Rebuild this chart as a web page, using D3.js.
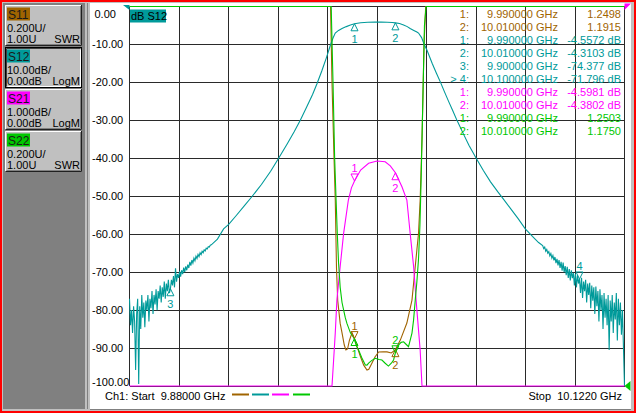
<!DOCTYPE html>
<html>
<head>
<meta charset="utf-8">
<script src="https://cdn.jsdelivr.net/npm/d3@7"></script>
<style>
body { margin: 0; background: #c0c0c0; }
svg { display: block; font-family: "Liberation Sans", Arial, sans-serif; font-size: 11px; }
</style>
</head>
<body>
<svg width="636" height="413"></svg>
<script>
// sweep and axis
var startGHz = 9.88, stopGHz = 10.122;
var yTickValues = [0, -10, -20, -30, -40, -50, -60, -70, -80, -90, -100];

// channel buttons on the left
var chanNames = ['S11', 'S12', 'S21', 'S22'];
var chanScale = ['0.200U/', '10.00dB/', '1.000dB/', '0.200U/'];
var chanRef = ['1.00U', '0.00dB', '0.00dB', '1.00U'];
var chanFormat = ['SWR', 'LogM', 'LogM', 'SWR'];
var chanColors = ['#a06400', '#009a9a', '#ff00ff', '#00c800'];

// S12 (dB) noisy ends are read at one point per 0.0005 GHz
var s12NoiseStep = 0.0005;
// low end, from 9.880
var s12LowDb = [-77, -84, -80, -86, -79, -83, -95.8, -81, -77, -99.5,
  -79, -85, -76, -82, -78, -84.5, -77.5, -80, -76, -83,
  -77, -79.5, -75, -81, -76, -78.5, -74.5, -80, -75, -77,
  -73.5, -78, -74, -76.5, -72.5, -77, -73, -75, -72, -75.5,
  -74.4, -72, -73.5, -71, -74, -69, -72.5, -70.5, -71.5, -69.8,
  -71.2, -69.5, -70.5, -68.8, -70, -68.5, -69.5, -68, -68.9, -67.3,
  -68.3, -66.8, -67.6, -66.3, -67, -65.8, -66.4, -65.3, -65.9, -64.9,
  -65.4, -64.5, -64.9, -64.1, -64.4, -63.7, -63.9, -63.3, -63.4, -62.9, -62.8];
// smooth middle
var s12MidFreq = [9.923, 9.926, 9.9285, 9.932, 9.936, 9.940, 9.9445, 9.949, 9.9529, 9.957, 9.9605,
  9.9635, 9.9665, 9.9695, 9.9717, 9.9740, 9.9762, 9.9782, 9.9795, 9.9806, 9.9822, 9.9839, 9.9860,
  9.9880, 9.9900, 9.9930, 9.9965, 10.0000, 10.0030, 10.0060, 10.0085, 10.0100, 10.0120, 10.0140,
  10.0158, 10.0172, 10.0190, 10.0205, 10.0213, 10.0228, 10.0240, 10.0255, 10.0280, 10.0300,
  10.0319, 10.0340, 10.0360, 10.0380, 10.0401, 10.0430, 10.0460, 10.0495, 10.0530, 10.0565,
  10.0600, 10.0630, 10.0665, 10.0700, 10.0735, 10.0770, 10.0800];
var s12MidDb = [-61.3, -58.6, -57.4, -55.2, -52.6, -50.0, -46.9, -43.4, -40.0, -36.3, -33.0,
  -30.0, -26.6, -23.2, -20.3, -17.0, -13.6, -10.2, -8.3, -7.0, -6.3, -5.8, -5.3,
  -4.9, -4.56, -4.3, -4.15, -4.12, -4.1, -4.15, -4.22, -4.31, -4.5, -4.85,
  -5.3, -5.8, -6.3, -6.7, -7.0, -8.2, -9.9, -11.6, -15.0, -17.5,
  -19.8, -22.5, -25.0, -27.4, -30.0, -33.3, -36.6, -40.0, -43.2, -46.2,
  -48.8, -50.9, -53.4, -55.9, -58.6, -60.6, -62.2];
// high end, from 10.082
var s12HighStart = 10.082;
var s12HighDb = [-63, -63.8, -63.4, -64.5, -64, -65, -64.6, -65.7, -65.1, -66.3,
  -65.6, -66.9, -66, -67.6, -66.5, -68.2, -66.8, -68.9, -67.3, -69.6,
  -67.5, -70, -68.4, -70.8, -68.6, -71.5, -69.2, -72.2, -69.5, -71.6,
  -70.2, -73.5, -70.4, -74, -70.8, -73, -71.8, -75.5, -71.5, -76.8,
  -72.5, -75, -72, -78, -73, -76, -72.8, -79.5, -73.5, -77.5,
  -74, -81, -73.8, -79, -75, -83, -74.5, -80, -76, -85,
  -75.5, -82, -77, -84, -76, -90.5, -77.5, -83, -76, -86,
  -78, -82.5, -75.5, -88, -77, -84, -78, -86.5, -80, -90, -110];

// S11 (SWR)
var s11Freq = [9.880, 9.9775, 9.9783, 9.9790, 9.9800, 9.9806, 9.9812, 9.9818, 9.9830, 9.9839,
  9.9850, 9.9858, 9.9866, 9.9875, 9.9888, 9.9900, 9.9915, 9.9928, 9.9945, 9.9961, 9.9970,
  9.9985, 10.0000, 10.0018, 10.0040, 10.0059, 10.0080, 10.0099, 10.0124, 10.0156, 10.0181,
  10.0197, 10.0213, 10.0221, 10.0230, 10.0240, 10.0248, 10.0255, 10.122];
var s11Swr = [12, 12, 3.2, 2.6, 2.2, 1.98, 1.62, 1.45, 1.33, 1.28,
  1.216, 1.19, 1.195, 1.24, 1.28, 1.25, 1.2, 1.158, 1.11, 1.084, 1.088,
  1.12, 1.153, 1.179, 1.18, 1.18, 1.174, 1.19, 1.242, 1.332, 1.453,
  1.63, 1.805, 1.98, 2.3, 2.8, 3.2, 12, 12];

// S21 (dB)
var s21Freq = [9.880, 9.9788, 9.9790, 9.9798, 9.9806, 9.9814, 9.9830, 9.9847, 9.9870, 9.9885,
  9.9900, 9.9930, 9.9969, 10.0010, 10.0050, 10.0075, 10.0100, 10.0132, 10.0156, 10.0172,
  10.0189, 10.0205, 10.0221, 10.0230, 10.0232, 10.122];
var s21Db = [-30, -30, -10.2, -9.31, -8.6, -7.73, -6.85, -5.97, -5.1, -4.78,
  -4.598, -4.31, -4.13, -4.07, -4.09, -4.2, -4.38, -4.75, -5.1, -5.97,
  -6.85, -8.0, -9.05, -10.2, -30, -30];

// S22 (SWR)
var s22Freq = [9.880, 9.9780, 9.9786, 9.9795, 9.9803, 9.9810, 9.9816, 9.9822, 9.9830, 9.9839,
  9.9847, 9.9855, 9.9863, 9.9880, 9.9896, 9.9910, 9.9920, 9.9935, 9.9953, 9.9961, 9.9969,
  9.9985, 10.0002, 10.0020, 10.0034, 10.0050, 10.0066, 10.0080, 10.0091, 10.0100, 10.0115,
  10.0128, 10.0140, 10.0152, 10.0164, 10.0172, 10.0181, 10.0189, 10.0197, 10.0205, 10.0213,
  10.0220, 10.0226, 10.0234, 10.0242, 10.0250, 10.0256, 10.122];
var s22Swr = [12, 12, 3.2, 2.6, 2.2, 1.98, 1.8, 1.65, 1.52, 1.44,
  1.40, 1.36, 1.33, 1.28, 1.255, 1.21, 1.19, 1.15, 1.111, 1.11, 1.121,
  1.135, 1.146, 1.14, 1.137, 1.12, 1.105, 1.12, 1.137, 1.175, 1.216,
  1.23, 1.233, 1.22, 1.207, 1.24, 1.279, 1.35, 1.453, 1.55, 1.67,
  1.85, 2.1, 2.5, 2.9, 3.2, 12, 12];

// markers: frequency, reading, label side
var s12MarkFreq = [9.99, 10.01, 9.90, 10.10], s12MarkVal = [-4.5572, -4.3103, -74.377, -71.796], s12MarkUp = [false, false, false, true];
var s21MarkFreq = [9.99, 10.01], s21MarkVal = [-4.5981, -4.3802], s21MarkUp = [true, false];
var s11MarkFreq = [9.99, 10.01], s11MarkVal = [1.2498, 1.1915], s11MarkUp = [true, false];
var s22MarkFreq = [9.99, 10.01], s22MarkVal = [1.2503, 1.1750], s22MarkUp = [false, true];

// marker readout table
var tableChan = [0, 0, 1, 1, 1, 1, 2, 2, 3, 3];
var tableIdx = ['1:', '2:', '1:', '2:', '3:', '> 4:', '1:', '2:', '1:', '2:'];
var tableFreq = ['9.990000 GHz', '10.010000 GHz', '9.990000 GHz', '10.010000 GHz', '9.900000 GHz',
  '10.100000 GHz', '9.990000 GHz', '10.010000 GHz', '9.990000 GHz', '10.010000 GHz'];
var tableVal = ['1.2498', '1.1915', '-4.5572 dB', '-4.3103 dB', '-74.377 dB', '-71.796 dB',
  '-4.5981 dB', '-4.3802 dB', '1.2503', '1.1750'];

var svg = d3.select('svg');

// window frame
svg.append('rect').attr('x', 0).attr('y', 0).attr('width', 636).attr('height', 413).attr('fill', '#c0c0c0');
svg.append('rect').attr('x', 3).attr('y', 3).attr('width', 82).attr('height', 406).attr('fill', '#808080');
svg.append('line').attr('x1', 87.5).attr('x2', 87.5).attr('y1', 3).attr('y2', 409).attr('stroke', '#808080');
svg.append('rect').attr('x', 90).attr('y', 3).attr('width', 541).attr('height', 406).attr('fill', '#fff');
svg.append('line').attr('x1', 90).attr('x2', 631).attr('y1', 409.5).attr('y2', 409.5).attr('stroke', '#808080');
svg.append('rect').attr('x', 1).attr('y', 1).attr('width', 634).attr('height', 411)
  .attr('fill', 'none').attr('stroke', '#ff0000').attr('stroke-width', 2);

// channel buttons
var btnY = [5, 47, 89, 131];
chanNames.forEach(function(name, i) {
  var g = svg.append('g').attr('transform', 'translate(5,' + btnY[i] + ')');
  g.append('rect').attr('width', 77).attr('height', 41).attr('fill', '#c0c0c0');
  if (i === 1) {
    g.append('rect').attr('x', 0.5).attr('y', 0.5).attr('width', 76).attr('height', 40)
      .attr('fill', 'none').attr('stroke', '#000');
    g.append('path').attr('d', 'M1.5,39.5V1.5H75.5').attr('fill', 'none').attr('stroke', '#404040');
    g.append('path').attr('d', 'M2.5,39.5H75.5V2.5').attr('fill', 'none').attr('stroke', '#fff');
  } else {
    g.append('path').attr('d', 'M0.5,40V0.5H76').attr('fill', 'none').attr('stroke', '#fff');
    g.append('path').attr('d', 'M0.5,40.5H76.5V0').attr('fill', 'none').attr('stroke', '#202020');
    g.append('path').attr('d', 'M1.5,39.5H75.5V1').attr('fill', 'none').attr('stroke', '#808080');
  }
  g.append('rect').attr('x', 2).attr('y', 2.5).attr('width', 23).attr('height', 13).attr('fill', chanColors[i]);
  g.append('text').attr('x', 3).attr('y', 13.5).attr('fill', '#1a1a1a').style('font-size', '12px').text(name);
  g.append('text').attr('x', 2).attr('y', 27).attr('fill', '#000').text(chanScale[i]);
  g.append('text').attr('x', 2).attr('y', 37.5).attr('fill', '#000').text(chanRef[i]);
  g.append('text').attr('x', 75).attr('y', 37.5).attr('text-anchor', 'end').attr('fill', '#000').text(chanFormat[i]);
});

// scales
var plotTop = 6.5, plotBottom = 386;
var xScale = d3.scaleLinear().domain([startGHz, stopGHz]).range([129.5, 624.5]);
var yDb = d3.scaleLinear().domain([0, -100]).range([plotTop, plotBottom]).clamp(true);
var yS21 = d3.scaleLinear().domain([0, -10]).range([plotTop, plotBottom]).clamp(true);
var ySwr = d3.scaleLinear().domain([3, 1]).range([plotTop, plotBottom]).clamp(true);

// graticule
var grid = svg.append('g').attr('stroke', '#2a2a2a').attr('shape-rendering', 'crispEdges');
d3.range(11).forEach(function(i) {
  var xv = xScale(startGHz + i * (stopGHz - startGHz) / 10);
  grid.append('line').attr('x1', xv).attr('x2', xv).attr('y1', plotTop).attr('y2', plotBottom);
});
yTickValues.forEach(function(v) {
  grid.append('line').attr('x1', xScale.range()[0]).attr('x2', xScale.range()[1]).attr('y1', yDb(v)).attr('y2', yDb(v));
});

// y labels (S12 scale); the first and last are nudged to stay inside
svg.append('g').selectAll('text').data(yTickValues).enter().append('text')
  .attr('x', function(d) { return d < 0 ? 92 : 94.5; })
  .attr('y', function(d, i) {
    if (i === 0) return 18;
    if (i === yTickValues.length - 1) return yDb(d);
    return yDb(d) + 4;
  })
  .attr('fill', '#000')
  .text(function(d) { return d.toFixed(2); });

// traces
var s12Freq = [], s12Db = [];
s12LowDb.forEach(function(v, i) { s12Freq.push(startGHz + i * s12NoiseStep); s12Db.push(v); });
s12MidFreq.forEach(function(f, i) { s12Freq.push(f); s12Db.push(s12MidDb[i]); });
s12HighDb.forEach(function(v, i) { s12Freq.push(s12HighStart + i * s12NoiseStep); s12Db.push(v); });

function drawTrace(freqs, vals, yScale, color) {
  var pts = freqs.map(function(f, i) { return [f, vals[i]]; });
  svg.append('path')
    .datum(pts)
    .attr('d', d3.line().x(function(d) { return xScale(d[0]); }).y(function(d) { return yScale(d[1]); }))
    .attr('fill', 'none')
    .attr('stroke', color)
    .attr('stroke-width', 1.1);
}
drawTrace(s11Freq, s11Swr, ySwr, chanColors[0]);
drawTrace(s12Freq, s12Db, yDb, chanColors[1]);
drawTrace(s21Freq, s21Db, yS21, chanColors[2]);
drawTrace(s22Freq, s22Swr, ySwr, chanColors[3]);

// marker triangles with numbers
function drawMarkers(freqs, vals, ups, yScale, color) {
  freqs.forEach(function(f, i) {
    var mx = xScale(f), my = yScale(vals[i]);
    var g = svg.append('g').attr('fill', 'none').attr('stroke', color);
    if (ups[i]) {
      g.append('path').attr('d', 'M' + mx + ',' + my + 'L' + (mx - 3.5) + ',' + (my - 7) + 'H' + (mx + 3.5) + 'Z');
      svg.append('text').attr('x', mx).attr('y', my - 9).attr('text-anchor', 'middle').attr('fill', color).text(i + 1);
    } else {
      g.append('path').attr('d', 'M' + mx + ',' + my + 'L' + (mx - 3.5) + ',' + (my + 7) + 'H' + (mx + 3.5) + 'Z');
      svg.append('text').attr('x', mx).attr('y', my + 19).attr('text-anchor', 'middle').attr('fill', color).text(i + 1);
    }
  });
}
drawMarkers(s11MarkFreq, s11MarkVal, s11MarkUp, ySwr, chanColors[0]);
drawMarkers(s12MarkFreq, s12MarkVal, s12MarkUp, yDb, chanColors[1]);
drawMarkers(s21MarkFreq, s21MarkVal, s21MarkUp, yS21, chanColors[2]);
drawMarkers(s22MarkFreq, s22MarkVal, s22MarkUp, ySwr, chanColors[3]);

// marker readout
var table = svg.append('g');
tableIdx.forEach(function(t, i) {
  var ty = 18 + i * 13;
  var c = chanColors[tableChan[i]];
  table.append('text').attr('x', 469).attr('y', ty).attr('text-anchor', 'end').attr('fill', c).text(t);
  table.append('text').attr('x', 558).attr('y', ty).attr('text-anchor', 'end').attr('fill', c).text(tableFreq[i]);
  table.append('text').attr('x', 621).attr('y', ty).attr('text-anchor', 'end').attr('fill', c).text(tableVal[i]);
});

// active trace label
svg.append('rect').attr('x', 130).attr('y', 9.5).attr('width', 36).attr('height', 13).attr('fill', chanColors[1]);
svg.append('text').attr('x', 131).attr('y', 20).attr('fill', '#000').text('dB S12');

// reference position arrows
svg.append('path').attr('d', 'M123,5H129.5V10Z').attr('fill', chanColors[1]);
svg.append('path').attr('d', 'M624.5,3.5H631L624.5,10Z').attr('fill', chanColors[2]);
svg.append('path').attr('d', 'M624.5,386L630.5,381V391Z').attr('fill', chanColors[3]);

// status line
svg.append('text').attr('x', 105).attr('y', 400).style('white-space', 'pre').attr('fill', '#000')
  .text('Ch1: Start  9.88000 GHz');
svg.append('text').attr('x', 622).attr('y', 400).attr('text-anchor', 'end').style('white-space', 'pre').attr('fill', '#000')
  .text('Stop  10.1220 GHz');
var legendX = [232, 252, 272, 293];
chanColors.forEach(function(c, i) {
  svg.append('line').attr('x1', legendX[i]).attr('x2', legendX[i] + 17).attr('y1', 394.5).attr('y2', 394.5)
    .attr('stroke', c).attr('stroke-width', 2);
});
</script>
</body>
</html>
